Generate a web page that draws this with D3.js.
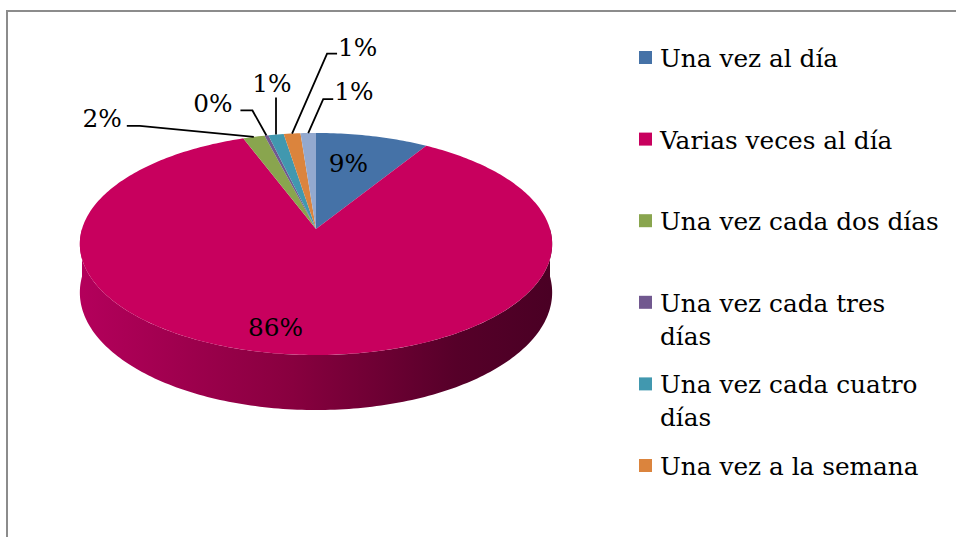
<!DOCTYPE html>
<html>
<head>
<meta charset="utf-8">
<script src="https://cdn.jsdelivr.net/npm/d3@7"></script>
<style>
  body { margin: 0; background: #fff; }
  svg { display: block; }
</style>
</head>
<body>
<div id="chart"></div>
<script>
// data
var categories = ["Una vez al día", "Varias veces al día", "Una vez cada dos días",
  "Una vez cada tres días", "Una vez cada cuatro días", "Una vez a la semana", "Otra"];
var values = [8.8, 85.5, 1.7, 0.3, 1.2, 1.3, 1.2];
var labels = ["9%", "86%", "2%", "0%", "1%", "1%", "1%"];
var colors = ["#4572A7", "#C8005E", "#89A54E", "#71588F", "#4198AF", "#DB843D", "#93A9CF"];
var legendCount = 6; // the last category is cut off in the original legend

var svgWidth = 956, svgHeight = 537;
var font = "'DejaVu Serif', 'Liberation Serif', serif";

// 3D pie geometry (simple perspective tilt)
var cx = 316, cy = 229;   // apex of the pie on screen
var R = 234, S = 109;     // horizontal / vertical radius before perspective
var p = 0.135;            // perspective strength
var depth = 47.6;         // thickness

function proj(a, r, z) {
  var u = Math.sin(a), v = Math.cos(a);
  var d = 1 + p * v * r;
  return [cx + R * r * u / d, cy - S * r * v / d + (z || 0) * depth / d];
}

function rim(a0, a1, r, z) {
  var n = Math.max(2, Math.ceil(Math.abs(a1 - a0) / (Math.PI / 180)));
  return d3.range(n + 1).map(function(i) { return proj(a0 + (a1 - a0) * i / n, r, z); });
}

// label placement: inside labels use radius fraction, outside ones use leader offsets from the rim
var labelPos = [
  { r: 0.58, dx: -2, dy: 0 },
  { r: 0.8, dx: -20, dy: 10 },
  { elbow: [-114, -11], end: [-127, -11], anchor: "end", tx: -5, ty: 1 },
  { elbow: [-14, -25], end: [-26, -25], anchor: "end", tx: -8, ty: 2 },
  { elbow: [0, -37], end: [0, -37], anchor: "middle", tx: -4, ty: -6 },
  { elbow: [35, -80], end: [45, -80], anchor: "start", tx: 1, ty: 2 },
  { elbow: [15, -34], end: [25, -34], anchor: "start", tx: 1, ty: 1 }
];

var svg = d3.select("#chart").append("svg")
  .attr("width", svgWidth)
  .attr("height", svgHeight);

// size the font so the widest one-line legend entry is as wide as in the original
var probe = svg.append("text")
  .style("font-family", font).style("font-size", "20px")
  .text("Una vez cada dos días");
var fontSize = 20 * 279 / probe.node().getComputedTextLength();
probe.remove();
var fs = fontSize + "px";

// chart frame (only top and left edges fall inside the picture)
svg.append("rect")
  .attr("x", 7).attr("y", 11)
  .attr("width", 1000).attr("height", 700)
  .attr("fill", "none")
  .attr("stroke", "#8c8c8c")
  .attr("stroke-width", 2);

var grad = svg.append("defs").append("linearGradient")
  .attr("id", "sideGrad")
  .attr("gradientUnits", "userSpaceOnUse")
  .attr("x1", cx - R).attr("x2", cx + R).attr("y1", 0).attr("y2", 0);
[[0, "#b3005b"], [0.45, "#88003f"], [0.8, "#560029"], [1, "#4a0024"]].forEach(function(s) {
  grad.append("stop").attr("offset", s[0]).attr("stop-color", s[1]);
});

var pie = d3.pie().sort(null).value(function(d) { return d; });
var arcs = pie(values);

var line = d3.line();

// front side wall
var front0 = Math.PI / 2, front1 = 3 * Math.PI / 2;
arcs.forEach(function(a, i) {
  var a0 = Math.max(a.startAngle, front0), a1 = Math.min(a.endAngle, front1);
  if (a1 <= a0) return;
  var pts = rim(a0, a1, 1, 0).concat(rim(a1, a0, 1, 1));
  svg.append("path")
    .attr("d", line(pts) + "Z")
    .attr("fill", i === 1 ? "url(#sideGrad)" : d3.color(colors[i]).darker(1.2));
});

// top faces
arcs.forEach(function(a, i) {
  var pts = [proj(0, 0)].concat(rim(a.startAngle, a.endAngle, 1, 0));
  svg.append("path")
    .attr("d", line(pts) + "Z")
    .attr("fill", colors[i]);
});

// data labels
arcs.forEach(function(a, i) {
  var lp = labelPos[i];
  var mid = (a.startAngle + a.endAngle) / 2;
  if (lp.r) {
    var c = proj(mid, lp.r, 0);
    svg.append("text")
      .attr("x", c[0] + lp.dx).attr("y", c[1] + lp.dy)
      .attr("text-anchor", "middle")
      .style("font-family", font).style("font-size", fs)
      .attr("fill", "#000")
      .text(labels[i]);
  } else {
    var o = proj(mid, 1, 0);
    var e1 = [o[0] + lp.elbow[0], o[1] + lp.elbow[1]];
    var e2 = [o[0] + lp.end[0], o[1] + lp.end[1]];
    svg.append("path")
      .attr("d", line([o, e1, e2]))
      .attr("fill", "none")
      .attr("stroke", "#000")
      .attr("stroke-width", 1.8);
    svg.append("text")
      .attr("x", e2[0] + lp.tx).attr("y", e2[1] + lp.ty)
      .attr("text-anchor", lp.anchor)
      .style("font-family", font).style("font-size", fs)
      .attr("fill", "#000")
      .text(labels[i]);
  }
});

// legend
var legend = svg.append("g");
var wrapWidth = 282;
categories.slice(0, legendCount).forEach(function(name, i) {
  var y = 67 + i * 81.6;
  legend.append("rect")
    .attr("x", 639).attr("y", y - 16)
    .attr("width", 13).attr("height", 13)
    .attr("fill", colors[i]);
  var t = legend.append("text")
    .attr("x", 660).attr("y", y)
    .style("font-family", font).style("font-size", fs)
    .attr("fill", "#000");
  // wrap words that do not fit
  var words = name.split(" "), lineWords = [];
  var tspan = t.append("tspan").attr("x", 660).attr("dy", 0);
  words.forEach(function(w) {
    lineWords.push(w);
    tspan.text(lineWords.join(" "));
    if (tspan.node().getComputedTextLength() > wrapWidth && lineWords.length > 1) {
      lineWords.pop();
      tspan.text(lineWords.join(" "));
      lineWords = [w];
      tspan = t.append("tspan").attr("x", 660).attr("dy", 33).text(w);
    }
  });
});
</script>
</body>
</html>
